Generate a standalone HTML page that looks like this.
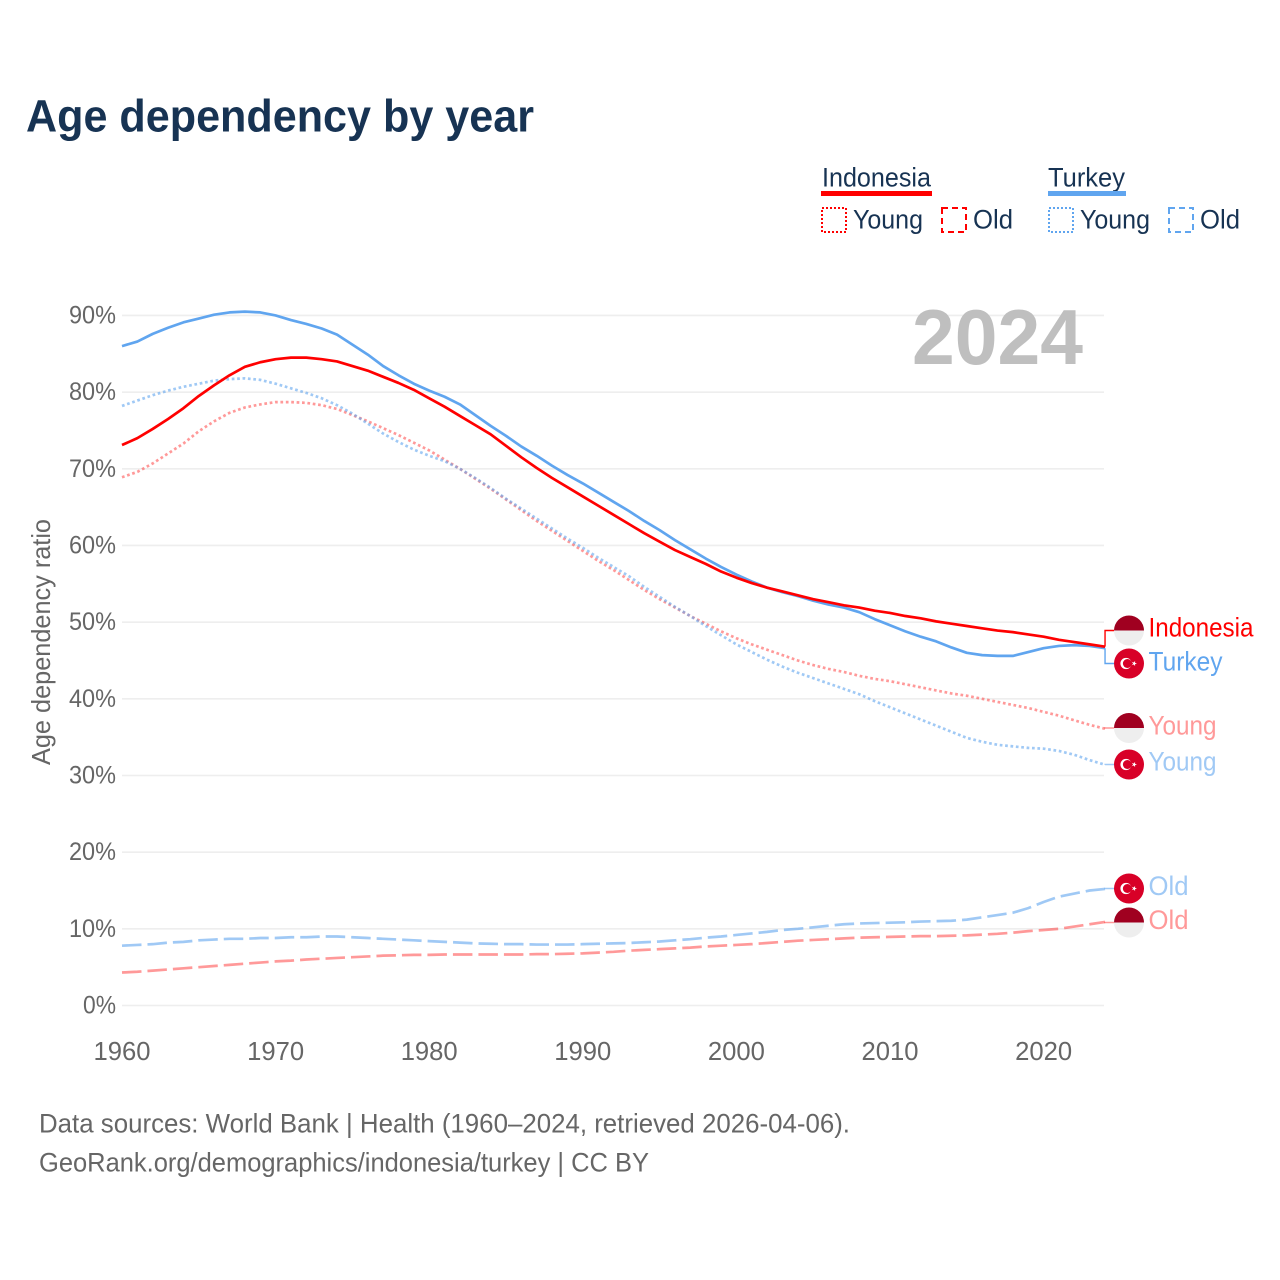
<!DOCTYPE html>
<html lang="en">
<head>
<meta charset="utf-8">
<title>Age dependency by year</title>
<style>
html,body{margin:0;padding:0;background:#fff;}
svg{display:block;font-family:"Liberation Sans",sans-serif;}
</style>
</head>
<body>
<svg id="chart" xmlns="http://www.w3.org/2000/svg" width="1280" height="1280" viewBox="0 0 1280 1280">
<rect width="1280" height="1280" fill="#fff"/>
<text x="26" y="131.5" font-size="45" font-weight="bold" fill="#173353" textLength="508" lengthAdjust="spacingAndGlyphs">Age dependency by year</text>

<g>
<g>
<text x="822" y="186.5" font-size="27" fill="#173353" textLength="109" lengthAdjust="spacingAndGlyphs">Indonesia</text>
<rect x="821" y="191" width="111" height="5" fill="#ff0000"/>
</g>
<g>
<rect x="822" y="208" width="24" height="24" fill="none" stroke="#ff0000" stroke-width="2" stroke-dasharray="2 2"/>
<text x="853" y="228.5" font-size="27" fill="#173353" textLength="70" lengthAdjust="spacingAndGlyphs">Young</text>
</g>
<g>
<rect x="942" y="208" width="24" height="24" fill="none" stroke="#ff0000" stroke-width="2" stroke-dasharray="6 4"/>
<text x="973" y="228.5" font-size="27" fill="#173353" textLength="40" lengthAdjust="spacingAndGlyphs">Old</text>
</g>
<g>
<text x="1048" y="186.5" font-size="27" fill="#173353" textLength="77" lengthAdjust="spacingAndGlyphs">Turkey</text>
<rect x="1048" y="191" width="78" height="5" fill="#60a5ef"/>
</g>
<g>
<rect x="1049" y="208" width="24" height="24" fill="none" stroke="#60a5ef" stroke-width="2" stroke-dasharray="2 2"/>
<text x="1080" y="228.5" font-size="27" fill="#173353" textLength="70" lengthAdjust="spacingAndGlyphs">Young</text>
</g>
<g>
<rect x="1169" y="208" width="24" height="24" fill="none" stroke="#60a5ef" stroke-width="2" stroke-dasharray="6 4"/>
<text x="1200" y="228.5" font-size="27" fill="#173353" textLength="40" lengthAdjust="spacingAndGlyphs">Old</text>
</g>
</g>

<g id="grid"></g>
<g id="yticks"></g>
<g id="xticks"></g>

<text x="912" y="364" font-size="78" font-weight="bold" fill="#bfbfbf" textLength="171" lengthAdjust="spacingAndGlyphs">2024</text>
<text transform="translate(50,765) rotate(-90)" font-size="26" fill="#666666" textLength="246" lengthAdjust="spacingAndGlyphs">Age dependency ratio</text>

<g id="series"></g>
<g id="endlabels"></g>

<g>
<text x="39" y="1132.5" font-size="27" fill="#666666" textLength="811" lengthAdjust="spacingAndGlyphs">Data sources: World Bank | Health (1960–2024, retrieved 2026-04-06).</text>
<text x="39" y="1171.5" font-size="27" fill="#666666" textLength="610" lengthAdjust="spacingAndGlyphs">GeoRank.org/demographics/indonesia/turkey | CC BY</text>
</g>
</svg>
<script>
const firstYear = 1960;
const yTickValues = [0, 10, 20, 30, 40, 50, 60, 70, 80, 90];
const xTickValues = [1960, 1970, 1980, 1990, 2000, 2010, 2020];

const turkeyTotal = [86.0,86.6,87.6,88.4,89.1,89.6,90.1,90.4,90.5,90.4,
90.0,89.4,88.9,88.3,87.5,86.2,84.9,83.4,82.2,81.1,
80.2,79.4,78.4,77.0,75.6,74.3,72.9,71.7,70.4,69.2,
68.1,66.9,65.7,64.5,63.2,62.0,60.7,59.5,58.3,57.2,
56.2,55.3,54.5,53.9,53.4,52.8,52.3,51.9,51.3,50.4,
49.6,48.8,48.1,47.5,46.7,46.0,45.7,45.6,45.6,46.1,
46.6,46.9,47.0,46.9,46.6];
const indonesiaTotal = [73.1,74.0,75.2,76.5,77.9,79.5,80.9,82.2,83.3,83.9,
84.3,84.5,84.5,84.3,84.0,83.4,82.8,82.0,81.2,80.3,
79.2,78.1,76.9,75.7,74.5,73.0,71.5,70.1,68.8,67.6,
66.4,65.2,64.0,62.8,61.6,60.5,59.4,58.5,57.6,56.6,
55.8,55.1,54.5,54.0,53.5,53.0,52.6,52.2,51.9,51.5,
51.2,50.8,50.5,50.1,49.8,49.5,49.2,48.9,48.7,48.4,
48.1,47.7,47.4,47.1,46.8];
const indonesiaYoung = [68.9,69.6,70.7,72.0,73.3,74.9,76.2,77.3,78.0,78.4,
78.7,78.7,78.6,78.3,77.8,77.0,76.2,75.3,74.4,73.4,
72.4,71.2,70.0,68.7,67.4,66.0,64.6,63.2,61.9,60.6,
59.3,58.0,56.8,55.5,54.2,53.0,51.9,50.8,49.8,48.8,
47.9,47.1,46.4,45.7,45.0,44.4,43.9,43.5,43.0,42.6,
42.3,41.9,41.5,41.1,40.7,40.4,40.0,39.6,39.2,38.8,
38.3,37.8,37.2,36.6,36.1];
const turkeyYoung = [78.2,78.9,79.6,80.2,80.7,81.1,81.5,81.7,81.8,81.6,
81.1,80.5,79.9,79.2,78.3,77.2,75.9,74.6,73.5,72.5,
71.7,71.0,70.0,68.8,67.5,66.1,64.8,63.5,62.2,60.9,
59.7,58.4,57.2,56.0,54.6,53.3,52.0,50.8,49.5,48.3,
47.1,46.1,45.1,44.2,43.4,42.7,42.0,41.3,40.6,39.7,
38.9,38.1,37.3,36.5,35.7,34.9,34.4,34.0,33.8,33.6,
33.5,33.2,32.7,32.0,31.4];
const turkeyOld = [7.8,7.9,8.0,8.2,8.3,8.5,8.6,8.7,8.7,8.8,
8.8,8.9,8.9,9.0,9.0,8.9,8.8,8.7,8.6,8.5,
8.4,8.3,8.2,8.1,8.05,8.0,8.0,7.95,7.95,7.95,
8.0,8.05,8.1,8.15,8.25,8.35,8.5,8.65,8.85,9.0,
9.2,9.4,9.6,9.85,10.0,10.2,10.4,10.6,10.7,10.75,
10.8,10.85,10.95,11.0,11.05,11.2,11.5,11.8,12.1,12.7,
13.5,14.2,14.6,15.0,15.2];
const indonesiaOld = [4.3,4.4,4.55,4.7,4.85,5.0,5.15,5.3,5.45,5.6,
5.75,5.85,6.0,6.1,6.2,6.3,6.4,6.5,6.55,6.6,
6.6,6.65,6.65,6.65,6.65,6.65,6.65,6.7,6.7,6.75,
6.8,6.9,7.0,7.15,7.25,7.35,7.45,7.55,7.7,7.8,
7.9,8.0,8.15,8.3,8.45,8.55,8.65,8.75,8.85,8.9,
8.95,9.0,9.05,9.05,9.1,9.15,9.25,9.35,9.5,9.7,
9.85,10.0,10.3,10.6,10.9];

const NS = 'http://www.w3.org/2000/svg';
function xScale(year){ return 122 + (year - 1960) * 15.36; }
function yScale(v){ return 1005.5 - v * 7.667; }
function make(tag, attrs, parent, text){
  const el = document.createElementNS(NS, tag);
  for (const k in attrs) el.setAttribute(k, attrs[k]);
  if (text !== undefined) el.textContent = text;
  parent.appendChild(el);
  return el;
}
function linePath(values){
  return values.map((v, i) => (i ? 'L' : 'M') + xScale(firstYear + i).toFixed(2) + ' ' + yScale(v).toFixed(2)).join('');
}

const gridG = document.getElementById('grid');
const yG = document.getElementById('yticks');
yTickValues.forEach(v => {
  const line = make('line', {x1: 122, x2: 1104, y1: yScale(v), y2: yScale(v), stroke: '#eeeeee', 'stroke-width': 1.6}, gridG);
  
  
  const w = v === 0 ? 33 : 47;
  const label = make('text', {x: 116 - w, y: yScale(v) + 8, 'font-size': 25, fill: '#666666', textLength: w, lengthAdjust: 'spacingAndGlyphs'}, yG, v + '%');
  
  
});

const xG = document.getElementById('xticks');
xTickValues.forEach(yr => {
  const label = make('text', {x: xScale(yr) - 28.5, y: 1060, 'font-size': 26, fill: '#666666', textLength: 57, lengthAdjust: 'spacingAndGlyphs'}, xG, String(yr));
  
  
});

const seriesG = document.getElementById('series');
function drawSeries(values, name, color, opacity, dash, labelY){
  const last = values[values.length - 1];
  const endX = xScale(firstYear + values.length - 1);
  const endY = yScale(last);
  const attrs = {d: linePath(values), fill: 'none', stroke: color, 'stroke-width': 2.7, 'stroke-opacity': opacity, 'stroke-linejoin': 'round'};
  if (dash) attrs['stroke-dasharray'] = dash;
  const path = make('path', attrs, seriesG);
  
  
  const conn = make('path', {d: 'M' + endX + ' ' + endY + 'L' + endX + ' ' + labelY + 'L1114 ' + labelY, fill: 'none', stroke: color, 'stroke-width': 1.4, 'stroke-opacity': opacity}, seriesG);
  
  
}
const lightRed = 0.4, lightBlue = 0.6;
drawSeries(indonesiaYoung, 'indonesia-young-line', '#ff0000', lightRed, '2.7 2.7', 728);
drawSeries(turkeyYoung, 'turkey-young-line', '#60a5ef', lightBlue, '2.7 2.7', 764.5);
drawSeries(indonesiaOld, 'indonesia-old-line', '#ff0000', lightRed, '19.5 6', 922.5);
drawSeries(turkeyOld, 'turkey-old-line', '#60a5ef', lightBlue, '19.5 6', 888.5);
drawSeries(turkeyTotal, 'turkey-total-line', '#60a5ef', 1, '', 663.5);
drawSeries(indonesiaTotal, 'indonesia-total-line', '#ff0000', 1, '', 630.5);

const endG = document.getElementById('endlabels');
function drawFlag(country, cy, name){
  const cx = 1129, r = 15;
  const g = make('g', {}, endG);
  
  
  if (country === 'id') {
    make('path', {d: 'M' + (cx - r) + ' ' + cy + 'A' + r + ' ' + r + ' 0 0 1 ' + (cx + r) + ' ' + cy + 'Z', fill: '#a00020'}, g);
    make('path', {d: 'M' + (cx - r) + ' ' + cy + 'A' + r + ' ' + r + ' 0 0 0 ' + (cx + r) + ' ' + cy + 'Z', fill: '#eeeeee'}, g);
  } else {
    make('circle', {cx: cx, cy: cy, r: r, fill: '#d80027'}, g);
    make('circle', {cx: cx - 3, cy: cy, r: 5.6, fill: '#ffffff'}, g);
    make('circle', {cx: cx - 1.6, cy: cy, r: 4.5, fill: '#d80027'}, g);
    const star = [];
    for (let k = 0; k < 10; k++) {
      const rad = k % 2 ? 1.1 : 2.8;
      const ang = k * Math.PI / 5;
      star.push((cx + 5.2 + rad * Math.cos(ang)).toFixed(2) + ',' + (cy + rad * Math.sin(ang)).toFixed(2));
    }
    make('polygon', {points: star.join(' '), fill: '#ffffff'}, g);
  }
}
function drawEndLabel(text, y, color, w, name){
  const t = make('text', {x: 1148.5, y: y, 'font-size': 27, fill: color, textLength: w, lengthAdjust: 'spacingAndGlyphs'}, endG, text);
  
  
}
drawFlag('id', 630.5, 'flag-indonesia-total');
drawFlag('tr', 663.5, 'flag-turkey-total');
drawFlag('id', 728, 'flag-indonesia-young');
drawFlag('tr', 764.5, 'flag-turkey-young');
drawFlag('tr', 888.5, 'flag-turkey-old');
drawFlag('id', 922.5, 'flag-indonesia-old');
drawEndLabel('Indonesia', 636.5, '#ff0000', 105, 'end-label-indonesia');
drawEndLabel('Turkey', 670.5, '#60a5ef', 74, 'end-label-turkey');
drawEndLabel('Young', 734.5, '#ff9999', 68, 'end-label-indonesia-young');
drawEndLabel('Young', 770.5, '#a0c9f5', 68, 'end-label-turkey-young');
drawEndLabel('Old', 895, '#a0c9f5', 40, 'end-label-turkey-old');
drawEndLabel('Old', 929, '#ff9999', 40, 'end-label-indonesia-old');
</script>
</body>
</html>
